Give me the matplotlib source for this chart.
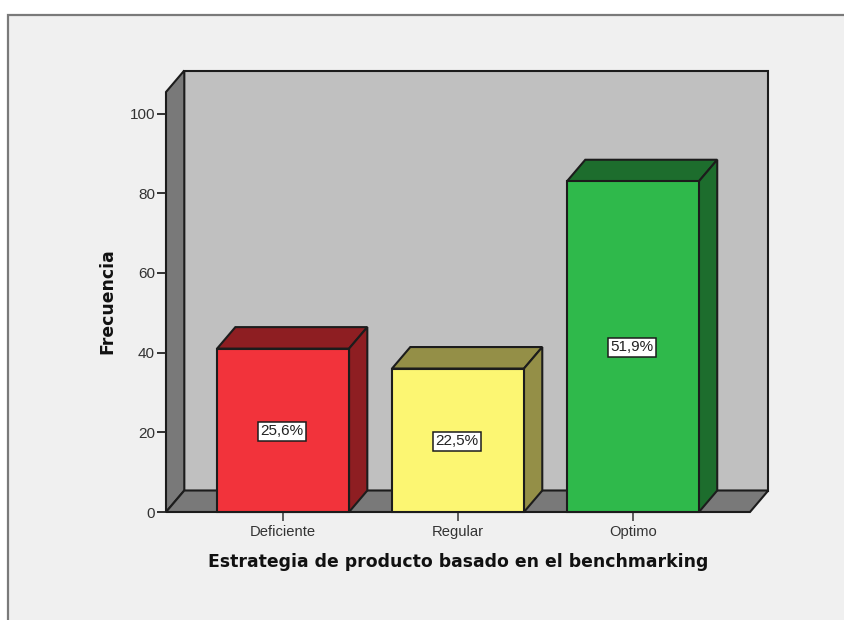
import matplotlib
matplotlib.use("Agg")
import matplotlib.pyplot as plt
from matplotlib.patches import Polygon, Rectangle

categorias = ["Deficiente", "Regular", "Optimo"]
frecuencias = [41, 36, 83]
porcentajes = ["25,6%", "22,5%", "51,9%"]
colores_frente = ["#f2333b", "#fcf672", "#2fb94b"]
colores_lado = ["#8e1e22", "#948f47", "#1d6d2d"]
ticks_y = [0, 20, 40, 60, 80, 100]

titulo_x = "Estrategia de producto basado en el benchmarking"
titulo_y = "Frecuencia"

W, H = 845, 620
BORDE = "#1c1c1c"
plt.rcParams["font.family"] = ["Liberation Sans", "DejaVu Sans"]

fig = plt.figure(figsize=(W / 100, H / 100), dpi=100, facecolor="white")

# panel gris claro con marco, abierto hacia la derecha y abajo
fondo = fig.add_axes([0, 0, 1, 1])
fondo.set_xlim(0, W)
fondo.set_ylim(H, 0)
fondo.axis("off")
fondo.add_patch(Rectangle((8.5, 14.5), W, H, facecolor="#f0f0f0", edgecolor="#7a7a7a", lw=1.6))

# ejes colocados sobre el plano frontal de la caja 3D
izq, der, abajo, arriba = 166, 750, 512, 92
ax = fig.add_axes([izq / W, 1 - abajo / H, (der - izq) / W, (abajo - arriba) / H])
ax.patch.set_alpha(0)
ax.set_xlim(-0.669, 2.669)
ax.set_ylim(0, (abajo - arriba) / 3.985)
for s in ax.spines.values():
    s.set_visible(False)

ymax = ax.get_ylim()[1]
x0, x1 = ax.get_xlim()
dx = 18.3 / 175
dy = 21.5 / 3.985
ancho = 132 / 175


def cara(puntos, color, z):
    ax.add_patch(Polygon(puntos, closed=True, facecolor=color, edgecolor=BORDE,
                         lw=1.5, joinstyle="miter", clip_on=False, zorder=z))


# paredes y suelo
cara([(x0 + dx, dy), (x1 + dx, dy), (x1 + dx, ymax + dy), (x0 + dx, ymax + dy)], "#c0c0c0", 1)
cara([(x0, 0), (x0 + dx, dy), (x0 + dx, ymax + dy), (x0, ymax)], "#797979", 1.1)
cara([(x0, 0), (x1, 0), (x1 + dx, dy), (x0 + dx, dy)], "#797979", 1.1)

# barras con cara superior y lateral
for i, v in enumerate(frecuencias):
    a = i - ancho / 2
    b = i + ancho / 2
    cara([(a, v), (b, v), (b + dx, v + dy), (a + dx, v + dy)], colores_lado[i], 2)
    cara([(b, 0), (b + dx, dy), (b + dx, v + dy), (b, v)], colores_lado[i], 2)
    cara([(a, 0), (b, 0), (b, v), (a, v)], colores_frente[i], 3)
    ax.text(i - 0.006, v / 2 - 0.2, porcentajes[i], ha="center", va="center", fontsize=11, color="#222222", zorder=5,
            bbox=dict(boxstyle="square,pad=0.16", facecolor="white", edgecolor=BORDE, lw=1.1))

ax.set_xticks(range(len(categorias)))
ax.set_xticklabels(categorias)
ax.set_yticks(ticks_y)
ax.tick_params(axis="x", length=6.5, width=1.1, color="#333333", labelsize=10.6, labelcolor="#333333", pad=3)
ax.tick_params(axis="y", length=6.5, width=1.3, color="#222222", labelsize=11, labelcolor="#333333", pad=1.5)

# titulos de los ejes
fondo.text(458, 562, titulo_x, ha="center", va="center", fontsize=12.4, fontweight="bold",
           color="#111111", family=["DejaVu Sans"])
fondo.text(107, 301.5, titulo_y, ha="center", va="center", rotation=90, fontsize=12.4,
           fontweight="bold", color="#111111", family=["DejaVu Sans"])

fig.savefig("out.png", dpi=100)
